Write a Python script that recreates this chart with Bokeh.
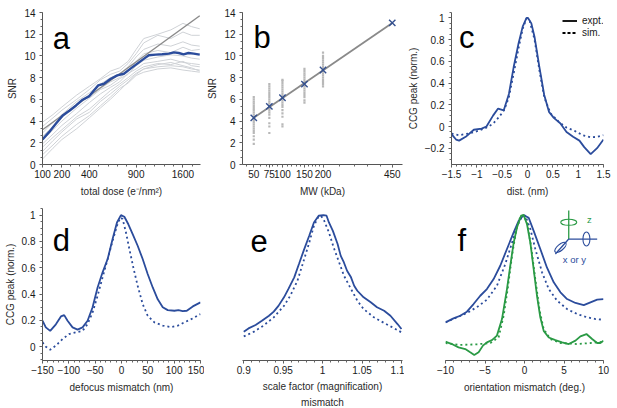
import numpy as np
from bokeh.plotting import figure
from bokeh.layouts import column, row
from bokeh.models import (FixedTicker, SingleIntervalTicker, CustomJSTickFormatter,
                          Label, Title, Range1d)
from bokeh.embed import file_html
from bokeh.resources import INLINE

FONT = "Liberation Sans"
BLUE = "#2b4c9c"
GREEN = "#2a9a45"
GREY_LIGHT = "#cfd2d6"
GREY_FIT = "#8a8a8a"

# ---------------- data ----------------
# panel a: SNR vs total dose (x axis in sqrt(dose))
a_dose_mean = [100, 130, 165, 205, 250, 295, 345, 400, 440, 480, 535, 605, 675, 750, 830,
               915, 1005, 1070, 1170, 1265, 1370, 1450, 1530, 1610, 1695, 1790, 1900]
a_snr_mean = [2.3, 2.98, 3.75, 4.52, 4.98, 5.44, 5.97, 6.3, 6.82, 7.29, 7.44, 7.9, 8.21, 8.36, 8.83,
              9.29, 9.75, 10.06, 10.12, 10.15, 10.21, 10.33, 10.27, 10.15, 10.27, 10.21, 10.12]
a_dose_grid = [100, 150, 200, 300, 400, 500, 600, 700, 800, 900, 1000, 1200, 1400, 1600, 1750, 1900]
a_grey_1 = [3.9, 4.6, 5.3, 6.4, 7.2, 7.9, 8.6, 8.9, 9.5, 10.6, 11.6, 12.0, 12.4, 13.0, 12.7, 12.5]
a_grey_2 = [3.5, 4.3, 5.0, 6.0, 6.9, 7.8, 8.3, 8.6, 9.3, 10.2, 11.2, 11.9, 11.6, 12.2, 11.9, 11.9]
a_grey_3 = [2.9, 3.9, 4.6, 5.8, 6.6, 7.4, 8.0, 8.3, 9.0, 9.9, 10.6, 11.1, 10.9, 11.3, 11.0, 10.9]
a_grey_4 = [2.6, 3.5, 4.3, 5.6, 6.2, 7.0, 7.6, 8.0, 8.6, 9.5, 10.2, 10.5, 10.3, 10.8, 10.5, 10.6]
a_grey_5 = [2.2, 3.2, 4.0, 5.2, 6.1, 6.9, 7.3, 7.9, 8.3, 9.1, 9.6, 9.9, 10.1, 10.0, 9.8, 9.7]
a_grey_6 = [1.9, 2.8, 3.6, 4.7, 5.7, 6.5, 7.1, 7.6, 8.4, 8.8, 9.3, 9.5, 9.7, 9.4, 9.3, 9.2]
a_grey_7 = [1.6, 2.5, 3.2, 4.4, 5.1, 6.0, 6.8, 7.4, 8.0, 8.6, 9.0, 9.3, 9.2, 9.5, 9.1, 9.0]
a_grey_8 = [1.2, 2.2, 3.0, 4.2, 4.8, 5.8, 6.5, 7.2, 7.8, 8.4, 8.8, 9.0, 9.1, 9.0, 8.8, 8.7]
a_grey_9 = [0.9, 1.8, 2.6, 3.7, 4.5, 5.4, 6.2, 7.0, 7.5, 8.2, 8.5, 8.8, 8.9, 8.7, 8.6, 8.5]
a_grey_10 = [0.5, 1.5, 2.3, 3.3, 4.3, 5.2, 6.0, 6.8, 7.6, 8.3, 8.8, 9.2, 9.4, 9.1, 8.9, 8.6]
a_fit_dose = [100, 1900]
a_fit_snr = [3.2, 13.7]
a_ticks = [100, 200, 400, 900, 1600]

# panel b: SNR vs molecular weight (x axis in sqrt(MW))
b_mw = [50, 75, 100, 150, 200, 450]
b_snr = [4.3, 5.35, 6.15, 7.4, 8.7, 13.05]
b_dots_50 = [1.9, 2.3, 2.6, 2.9, 3.1, 3.3, 3.5, 3.7, 3.9, 4.1, 4.4, 4.6, 4.8, 5.0, 5.2, 5.4, 5.6, 5.8, 6.0, 6.2]
b_dots_75 = [2.9, 3.5, 3.8, 4.3, 4.6, 4.8, 5.0, 5.2, 5.4, 5.6, 5.8, 6.0, 6.2, 6.4, 6.6, 6.8, 7.0, 7.2, 7.4]
b_dots_100 = [3.5, 3.7, 4.4, 4.7, 5.0, 5.3, 5.5, 5.7, 5.9, 6.1, 6.3, 6.5, 6.7, 6.9, 7.1, 7.3, 7.5, 7.7, 7.8]
b_dots_150 = [5.7, 5.9, 6.2, 6.4, 6.6, 6.8, 7.0, 7.2, 7.4, 7.6, 7.8, 8.0, 8.2, 8.4, 8.6, 8.8]
b_dots_200 = [7.2, 7.4, 7.6, 7.8, 8.0, 8.2, 8.4, 8.6, 8.8, 9.0, 9.2, 9.4, 9.6, 9.8, 10.0, 10.3]

# panel c: CCG peak vs distance
c_x_expt = [-1.5, -1.41, -1.35, -1.22, -1.06, -0.905, -0.81, -0.68, -0.58, -0.47, -0.367, -0.272,
            -0.177, -0.095, -0.019, 0.01, 0.076, 0.139, 0.234, 0.33, 0.424, 0.519, 0.646, 0.77,
            0.9, 1.025, 1.12, 1.247, 1.373, 1.5]
c_y_expt = [-0.07, -0.12, -0.13, -0.095, -0.03, -0.02, 0.0, 0.10, 0.165, 0.148, 0.30, 0.55,
            0.765, 0.92, 1.0, 1.0, 0.95, 0.825, 0.55, 0.29, 0.135, 0.08, 0.03, -0.05,
            -0.095, -0.13, -0.19, -0.255, -0.20, -0.12]
c_x_sim = [-1.5, -1.35, -1.16, -0.97, -0.81, -0.68, -0.557, -0.462, -0.367, -0.272, -0.177, -0.095,
           -0.019, 0.044, 0.139, 0.234, 0.33, 0.456, 0.614, 0.77, 0.93, 1.09, 1.247, 1.373, 1.5]
c_y_sim = [-0.065, -0.08, -0.065, -0.04, -0.01, 0.025, 0.09, 0.15, 0.27, 0.49, 0.72, 0.90,
           0.995, 0.97, 0.80, 0.52, 0.27, 0.12, 0.045, -0.01, -0.04, -0.08, -0.10, -0.095, -0.08]

# panel d: CCG peak vs defocus mismatch
d_x_expt = [-150, -143.7, -135.4, -124.6, -115, -108.8, -102.4, -92.9, -83.4, -73.9, -64.4, -54.9,
            -45.4, -35.9, -26.3, -16.8, -8.6, -1, 5.4, 13, 21.2, 30.7, 40.2, 49.7, 59.3, 68.8,
            78.3, 87.8, 100.5, 108.1, 116.3, 124, 135.4, 150]
d_y_expt = [0.197, 0.147, 0.12, 0.17, 0.23, 0.24, 0.197, 0.147, 0.13, 0.147, 0.197, 0.30,
            0.45, 0.565, 0.666, 0.82, 0.944, 1.0, 0.987, 0.93, 0.855, 0.767, 0.666, 0.552, 0.45, 0.36,
            0.30, 0.278, 0.273, 0.278, 0.27, 0.273, 0.306, 0.337]
d_x_sim = [-150, -143.7, -135.4, -124.6, -112, -99.3, -86.6, -73.9, -64.4, -54.9, -45.4, -35.9,
           -26.3, -16.8, -8.6, -2.3, 2.2, 8.5, 14.9, 23.1, 30.7, 40.2, 49.7, 62.4, 78.3, 94.2,
           106.9, 119.5, 135.4, 150]
d_y_sim = [0.033, 0.0, -0.023, 0.008, 0.058, 0.096, 0.109, 0.12, 0.172, 0.26, 0.387, 0.527,
           0.666, 0.805, 0.919, 0.98, 0.97, 0.868, 0.742, 0.59, 0.463, 0.324, 0.235, 0.185, 0.16, 0.149,
           0.16, 0.185, 0.215, 0.248]

# panel e: CCG peak vs scale factor
e_x_expt = [0.9, 0.906, 0.915, 0.923, 0.932, 0.938, 0.944, 0.951, 0.957, 0.964, 0.970, 0.976,
            0.983, 0.989, 0.995, 1.001, 1.005, 1.008, 1.013, 1.019, 1.023, 1.027, 1.031, 1.036,
            1.040, 1.044, 1.052, 1.061, 1.069, 1.078, 1.086, 1.095, 1.1]
e_y_expt = [0.114, 0.139, 0.165, 0.197, 0.235, 0.266, 0.31, 0.375, 0.443, 0.527, 0.628, 0.73,
            0.843, 0.944, 0.995, 1.0, 0.995, 0.944, 0.88, 0.78, 0.69, 0.64, 0.577, 0.527,
            0.463, 0.425, 0.375, 0.337, 0.30, 0.273, 0.235, 0.172, 0.134]
e_x_sim = [0.9, 0.913, 0.925, 0.938, 0.951, 0.959, 0.968, 0.976, 0.983, 0.989, 0.994, 0.998,
           1.002, 1.008, 1.014, 1.021, 1.027, 1.036, 1.044, 1.052, 1.065, 1.078, 1.091, 1.1]
e_y_sim = [0.078, 0.114, 0.16, 0.223, 0.31, 0.387, 0.50, 0.653, 0.79, 0.919, 0.98, 0.995,
           0.957, 0.868, 0.754, 0.64, 0.54, 0.438, 0.35, 0.286, 0.223, 0.18, 0.139, 0.109]

# panel f: CCG peak vs orientation mismatch (blue: x or y axis, green: z axis)
f_x_xy_expt = [-10, -8.99, -8.14, -7.29, -6.45, -5.6, -4.76, -3.91, -3.07, -2.22, -1.37, -0.74,
               -0.11, 0.53, 1.16, 2.0, 2.85, 3.7, 4.55, 5.39, 6.45, 7.5, 8.35, 9.2, 10]
f_y_xy_expt = [0.185, 0.215, 0.235, 0.266, 0.324, 0.387, 0.438, 0.514, 0.615, 0.742, 0.868, 0.957,
               1.0, 0.98, 0.88, 0.742, 0.60, 0.489, 0.413, 0.362, 0.332, 0.316, 0.337, 0.357, 0.362]
f_x_xy_sim = [-10, -8.56, -7.29, -6.03, -4.76, -3.49, -2.43, -1.58, -0.95, -0.32, 0.11, 0.74,
              1.37, 2.22, 3.07, 4.12, 5.39, 6.66, 7.93, 8.99, 10]
f_y_xy_sim = [0.185, 0.223, 0.256, 0.30, 0.357, 0.463, 0.628, 0.79, 0.914, 0.99, 0.995, 0.894,
              0.742, 0.565, 0.438, 0.35, 0.286, 0.248, 0.223, 0.21, 0.205]
f_x_z_expt = [-10, -9.2, -8.35, -7.5, -6.87, -6.36, -5.81, -5.26, -4.76, -4.12, -3.49, -2.85,
              -2.22, -1.8, -1.37, -0.95, -0.44, -0.11, 0.32, 0.74, 1.16, 1.58, 2.0, 2.43, 3.07,
              3.91, 4.76, 5.6, 6.45, 7.08, 7.84, 8.56, 9.2, 9.6, 10]
f_y_z_expt = [0.038, 0.02, -0.005, -0.018, -0.043, -0.063, -0.043, 0.008, 0.033, 0.05, 0.084, 0.21,
              0.438, 0.615, 0.79, 0.906, 0.995, 1.0, 0.93, 0.79, 0.59, 0.387, 0.223, 0.12, 0.07,
              0.05, 0.033, 0.02, 0.046, 0.078, 0.096, 0.058, 0.028, 0.028, 0.046]
f_x_z_sim = [-10, -8.14, -6.03, -4.33, -3.28, -2.64, -2.13, -1.58, -1.03, -0.53, -0.11, 0.32,
             0.82, 1.37, 1.92, 2.43, 3.28, 4.55, 6.66, 8.35, 10]
f_y_z_sim = [0.028, 0.013, 0.018, 0.028, 0.07, 0.235, 0.438, 0.69, 0.894, 0.99, 1.0, 0.944,
             0.767, 0.514, 0.273, 0.134, 0.058, 0.028, 0.02, 0.028, 0.038]

# ---------------- helpers ----------------
minus_fmt = "const v = Number(tick.toFixed(4)); return v < 0 ? '\u2212' + String(-v) : String(v);"
sqrt_fmt = "return String(Math.round(tick*tick));"
FS = "10px"


def make_fig(w, h, xr, yr, bl, br, bt, bb):
    p = figure(width=w, height=h, x_range=Range1d(*xr), y_range=Range1d(*yr),
               output_backend="svg", toolbar_location=None,
               min_border_left=bl, min_border_right=br, min_border_top=bt, min_border_bottom=bb)
    p.outline_line_color = None
    p.grid.visible = False
    p.background_fill_color = "white"
    p.border_fill_color = "white"
    for ax in (p.xaxis[0], p.yaxis[0]):
        ax.axis_label_text_font = FONT
        ax.axis_label_text_font_size = FS
        ax.axis_label_text_font_style = "normal"
        ax.axis_label_text_color = "#2a2a2a"
        ax.major_label_text_font = FONT
        ax.major_label_text_font_size = FS
        ax.major_label_text_color = "#1a1a1a"
        ax.axis_line_color = "#555555"
        ax.major_tick_line_color = "#555555"
        ax.minor_tick_line_color = "#666666"
        ax.major_tick_in = 0
        ax.major_tick_out = 3
        ax.minor_tick_in = 0
        ax.minor_tick_out = 2
    p.xaxis[0].major_label_standoff = 2
    p.xaxis[0].axis_label_standoff = 5
    p.yaxis[0].major_label_standoff = 4
    p.yaxis[0].axis_label_standoff = 3
    return p


def letter(p, x, y, t):
    p.add_layout(Label(x=x, y=y, text=t, text_font=FONT, text_font_size="31px",
                       text_baseline="alphabetic", text_color="black"))


YR_BOT = (-0.105, 1.05)
H1, H2 = 202, 205

# ---------------- panel a ----------------
pa = make_fig(204, H1, (10, 43.75), (0, 14), 42, 4, 12, 38)
for g in (a_grey_1, a_grey_2, a_grey_3, a_grey_4, a_grey_5, a_grey_6, a_grey_7, a_grey_8, a_grey_9, a_grey_10):
    pa.line(np.sqrt(a_dose_grid), g, color=GREY_LIGHT, line_width=1)
pa.line(np.sqrt(a_fit_dose), a_fit_snr, color=GREY_FIT, line_width=1.4)
pa.line(np.sqrt(a_dose_mean), a_snr_mean, color=BLUE, line_width=2.4)
pa.xaxis[0].ticker = FixedTicker(ticks=list(np.sqrt(a_ticks)), minor_ticks=list(np.arange(10, 44.5, 2.0)))
pa.xaxis[0].formatter = CustomJSTickFormatter(code=sqrt_fmt)
pa.yaxis[0].ticker = SingleIntervalTicker(interval=2, num_minor_ticks=3)
pa.xaxis[0].axis_label = "total dose (e\u207b/nm\u00b2)"
pa.yaxis[0].axis_label = "SNR"
letter(pa, 12.2, 11.6, "a")

# ---------------- panel b ----------------
pb = make_fig(200, H1, (5.92, 22.26), (0, 14), 38, 2, 12, 38)
for mw, dots in zip(b_mw[:5], (b_dots_50, b_dots_75, b_dots_100, b_dots_150, b_dots_200)):
    pb.scatter([np.sqrt(mw)] * len(dots), dots, marker="square", size=2.2, color="#b8b8b8", line_width=0)
coef = np.polyfit(np.sqrt(b_mw), b_snr, 1)
bx = np.sqrt([b_mw[0], b_mw[-1]])
pb.line(bx, np.polyval(coef, bx), color=GREY_FIT, line_width=1.8)
pb.scatter(np.sqrt(b_mw), b_snr, marker="x", size=9, line_width=1.4, color="#34508f")
b_minor = list(range(40, 200, 10)) + list(range(200, 501, 50))
pb.xaxis[0].ticker = FixedTicker(ticks=list(np.sqrt(b_mw)), minor_ticks=list(np.sqrt(b_minor)))
pb.xaxis[0].formatter = CustomJSTickFormatter(code=sqrt_fmt)
pb.yaxis[0].ticker = SingleIntervalTicker(interval=2, num_minor_ticks=3)
pb.xaxis[0].axis_label = "MW (kDa)"
pb.yaxis[0].axis_label = "SNR"
letter(pb, 7.04, 11.7, "b")

# ---------------- panel c ----------------
pc = make_fig(212, H1, (-1.5, 1.5), (-0.35, 1.05), 41, 13, 12, 38)
pc.line(c_x_sim, c_y_sim, color=BLUE, line_width=1.8, line_dash="2 3")
pc.line(c_x_expt, c_y_expt, color=BLUE, line_width=1.8)
# legend key renderers (placed outside the visible range)
pc.line([5, 6], [5, 5], color="black", line_width=1.8, legend_label="expt.")
pc.line([5, 6], [5, 5], color="black", line_width=1.8, line_dash="3 2", legend_label="sim.")
lg = pc.legend[0]
lg.location = (111, 126)
lg.border_line_alpha = 0
lg.background_fill_alpha = 0
lg.label_text_font = FONT
lg.label_text_font_size = FS
lg.label_text_color = "#1a1a1a"
lg.glyph_width = 15
lg.glyph_height = 11
lg.label_height = 11
lg.spacing = 1
lg.padding = 0
lg.margin = 0
lg.label_standoff = 5
pc.xaxis[0].ticker = SingleIntervalTicker(interval=0.5, num_minor_ticks=5)
pc.yaxis[0].ticker = SingleIntervalTicker(interval=0.2, num_minor_ticks=4)
pc.xaxis[0].formatter = CustomJSTickFormatter(code=minus_fmt)
pc.yaxis[0].formatter = CustomJSTickFormatter(code=minus_fmt)
pc.xaxis[0].axis_label = "dist. (nm)"
pc.yaxis[0].axis_label = "CCG peak (norm.)"
letter(pc, -1.35, 0.823, "c")

# ---------------- panel d ----------------
pd_ = make_fig(204, H2, (-150, 150), YR_BOT, 42, 4, 6, 47)
pd_.line(d_x_sim, d_y_sim, color=BLUE, line_width=1.8, line_dash="2 3")
pd_.line(d_x_expt, d_y_expt, color=BLUE, line_width=1.8)
pd_.xaxis[0].ticker = SingleIntervalTicker(interval=50, num_minor_ticks=5)
pd_.yaxis[0].ticker = SingleIntervalTicker(interval=0.2, num_minor_ticks=4)
pd_.xaxis[0].formatter = CustomJSTickFormatter(code=minus_fmt)
pd_.yaxis[0].formatter = CustomJSTickFormatter(code=minus_fmt)
pd_.xaxis[0].axis_label = "defocus mismatch (nm)"
pd_.yaxis[0].axis_label = "CCG peak (norm.)"
letter(pd_, -130.4, 0.805, "d")

# ---------------- panel e ----------------
pe = make_fig(200, H2, (0.8984, 1.1013), YR_BOT, 38, 2, 6, 47)
pe.line(e_x_sim, e_y_sim, color=BLUE, line_width=1.8, line_dash="2 3")
pe.line(e_x_expt, e_y_expt, color=BLUE, line_width=1.8)
pe.yaxis[0].visible = False
pe.xaxis[0].ticker = FixedTicker(ticks=[0.9, 0.95, 1.0, 1.05, 1.1],
                                 minor_ticks=list(np.round(np.arange(0.9, 1.1001, 0.01), 3)))
pe.xaxis[0].formatter = CustomJSTickFormatter(code=minus_fmt)
pe.xaxis[0].axis_label = "scale factor (magnification)"
pe.xaxis[0].axis_label_standoff = 4
pe.add_layout(Title(text="mismatch", align="center", text_font=FONT, text_font_size=FS,
                    text_font_style="normal", text_color="#2a2a2a", standoff=0), "below")
letter(pe, 0.9085, 0.805, "e")

# ---------------- panel f ----------------
pf = make_fig(212, H2, (-10, 10), YR_BOT, 41, 13, 6, 47)
pf.line(f_x_xy_sim, f_y_xy_sim, color=BLUE, line_width=1.8, line_dash="2 3")
pf.line(f_x_xy_expt, f_y_xy_expt, color=BLUE, line_width=1.8)
pf.line(f_x_z_sim, f_y_z_sim, color=GREEN, line_width=1.8, line_dash="2 3")
pf.line(f_x_z_expt, f_y_z_expt, color=GREEN, line_width=1.8)
pf.yaxis[0].visible = False
pf.xaxis[0].ticker = SingleIntervalTicker(interval=5, num_minor_ticks=5)
pf.xaxis[0].formatter = CustomJSTickFormatter(code=minus_fmt)
pf.xaxis[0].axis_label = "orientation mismatch (deg.)"
letter(pf, -8.48, 0.805, "f")
# rotation-axis icon
pf.line([5.6, 5.6], [0.818, 1.035], color=GREEN, line_width=1.3)
pf.ellipse(x=[5.6], y=[0.945], width=16, height=6, width_units="screen", height_units="screen",
           fill_alpha=0, line_color=GREEN, line_width=1.1)
pf.line([5.6, 9.2], [0.818, 0.818], color=BLUE, line_width=1.3)
pf.ellipse(x=[7.84], y=[0.818], width=7, height=14, width_units="screen", height_units="screen",
           fill_alpha=0, line_color=BLUE, line_width=1.1)
pf.line([5.6, 3.91], [0.818, 0.704], color=BLUE, line_width=1.3)
pf.ellipse(x=[4.55], y=[0.754], width=14, height=6, angle=0.7, width_units="screen",
           height_units="screen", fill_alpha=0, line_color=BLUE, line_width=1.1)
pf.add_layout(Label(x=8.22, y=0.97, text="z", text_font=FONT, text_font_size="9.5px",
                    text_color=GREEN, text_align="center", text_baseline="middle"))
pf.add_layout(Label(x=6.32, y=0.666, text="x or y", text_font=FONT, text_font_size="9.5px",
                    text_color=BLUE, text_align="center", text_baseline="middle"))

layout = column(row(pa, pb, pc), row(pd_, pe, pf))
open("out.html", "w").write(file_html(layout, INLINE))
